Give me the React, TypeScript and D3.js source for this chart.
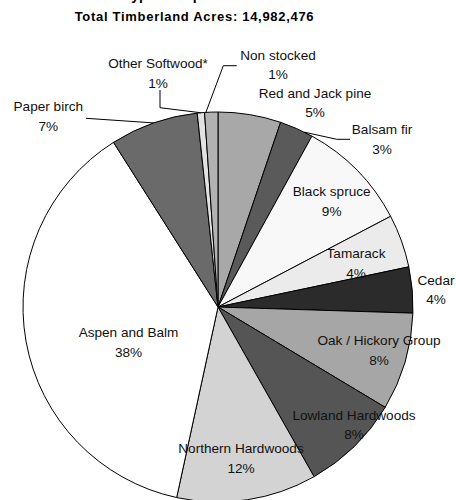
import React from "react";
import * as d3 from "d3";

const categories = [
  "Red and Jack pine",
  "Balsam fir",
  "Black spruce",
  "Tamarack",
  "Cedar",
  "Oak / Hickory Group",
  "Lowland Hardwoods",
  "Northern Hardwoods",
  "Aspen and Balm",
  "Paper birch",
  "Other Softwood*",
  "Non stocked",
];
const values = [5.2, 2.8, 9.3, 4.4, 3.8, 8.1, 8.2, 11.6, 37.6, 7.3, 0.6, 1.1];
const colors = [
  "#a8a8a8", "#5a5a5a", "#f8f8f8", "#ebebeb", "#2b2b2b", "#a6a6a6",
  "#555555", "#d3d3d3", "#ffffff", "#6a6a6a", "#e2e2e2", "#b2b2b2",
];
const titleLine1 = "Forest Type Groups";
const titleLine2 = "Total Timberland Acres: 14,982,476";

const W = 456, H = 500, CX = 218, CY = 307, R = 195;
const FONT = "Liberation Sans, Arial, sans-serif";

// layout: centre of the name line of each label (page coords)
const labelPos: [number, number][] = [
  [315, 93], [382, 129.5], [331.7, 191.7], [356, 253.3], [436, 280], [379, 340.7],
  [354, 415], [241, 448.3], [128.5, 332.7], [48.3, 106.7], [158, 63.3], [278, 55],
];
const leaders: { i: number; t: number; pts: [number, number][] }[] = [
  { i: 1, t: 0.75, pts: [[350, 139.3], [336.7, 139.3]] },
  { i: 9, t: 0.5, pts: [[86, 118.3]] },
  { i: 10, t: 0.5, pts: [[160, 90], [160, 107.7]] },
  { i: 11, t: 0.1, pts: [[236.7, 65.7], [223.3, 65.7]] },
];

export default function App() {
  const pie = d3.pie<number>().sort(null).value((d) => d);
  const arcs = pie(values);
  const arc = d3.arc<d3.PieArcDatum<number>>().innerRadius(0).outerRadius(R);
  const line = d3.line();

  return (
    <svg
      width={W}
      height={H}
      style={{ position: "absolute", left: 0, top: 0, background: "#fff" }}
      fontFamily={FONT}
    >
      <text x={77} y={0} fontSize={14} fontWeight="bold" fill="#000">
        {titleLine1}
      </text>
      <text
        x={194.5}
        y={20.5}
        fontSize={13}
        fontWeight="bold"
        textAnchor="middle"
        letterSpacing={0.7}
        fill="#000"
      >
        {titleLine2}
      </text>
      <g transform={`translate(${CX},${CY})`}>
        {arcs.map((a, i) => (
          <path key={i} d={arc(a) || ""} fill={colors[i]} stroke="#000" strokeWidth={1} />
        ))}
      </g>
      {leaders.map((l, k) => {
        const a = arcs[l.i];
        const ang = a.startAngle + (a.endAngle - a.startAngle) * l.t;
        const end: [number, number] = [CX + Math.sin(ang) * R, CY - Math.cos(ang) * R];
        return (
          <path
            key={k}
            d={line([...l.pts, end]) || ""}
            fill="none"
            stroke="#000"
            strokeWidth={1}
          />
        );
      })}
      {categories.map((c, i) => (
        <g key={i} fontSize={13.6} fill="#111" textAnchor="middle">
          <text x={labelPos[i][0]} y={labelPos[i][1]} dy="0.35em">
            {c}
          </text>
          <text x={labelPos[i][0]} y={labelPos[i][1] + 19.5} dy="0.35em">
            {Math.round(values[i])}%
          </text>
        </g>
      ))}
    </svg>
  );
}
